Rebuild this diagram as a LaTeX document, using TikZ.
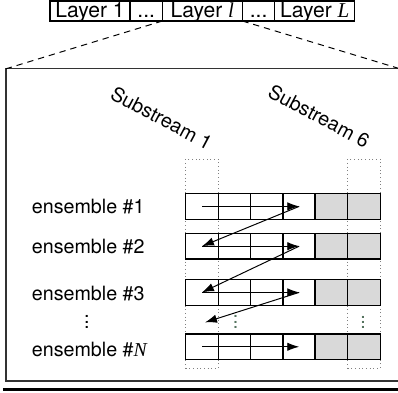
\documentclass[tikz,border=0pt]{standalone}
\usepackage{fontspec}
\setmainfont{TeX Gyre Heros}
\newfontfamily\timesfont{Liberation Serif}
\usetikzlibrary{positioning,arrows.meta}
\definecolor{dotgreen}{RGB}{85,115,95}
\newcommand{\tinyvdots}{\vbox{\baselineskip3.6pt\lineskiplimit0pt\hbox{.}\hbox{.}\hbox{.}}}

\begin{document}
\begin{tikzpicture}[font=\fontsize{14}{16}\selectfont]
    % Define styles
    \tikzset{
        layer/.style={rectangle, draw, line width=0.8pt, minimum width=2cm, font=\fontsize{15}{17}\selectfont, text height=1.1em, text depth=0.22em, inner ysep=0.5pt, inner xsep=2pt, outer sep=0},
        skip/.style={layer, minimum width=0.81cm},
        cell/.style={rectangle, draw, line width=0.8pt, minimum width=0.81cm, minimum height=0.64cm, inner sep=0, outer sep=0, fill=white},
        spare/.style={cell, fill=gray!30},
        substream/.style={rectangle, draw=gray, dotted, line width=0.6pt, minimum width=0.81cm, minimum height=5.23cm, inner sep=0, outer sep=0},
        ensemble/.style={anchor=west, inner sep=0, font=\fontsize{14}{16}\selectfont},
        arrow/.style={-{Latex[length=8.5pt,width=6pt]}, line width=0.7pt},
        zoomline/.style={dash pattern=on 4.5pt off 3.5pt, line width=0.7pt}
    }
    \useasboundingbox (0,0) rectangle (9.95,-9.825);

    % Layers
    \node[layer, anchor=south west] (lay1) at (1.25,-0.525) {Layer 1};
    \node[skip, right=0pt of lay1] (skip1) {...};
    \node[layer, right=0pt of skip1] (layl) {Layer {\timesfont\itshape l}};
    \node[skip, right=0pt of layl] (skip2) {...};
    \node[layer, right=0pt of skip2] (layL) {Layer {\timesfont\itshape L}};

    % Zoomed layer
    \node[draw=black!80, line width=0.9pt, minimum width=9.85cm, minimum height=7.805cm, inner sep=0, outer sep=0] (zoombox) at (5.075,-5.6225) {};
    \draw[zoomline] (layl.south west) -- (zoombox.north west);
    \draw[zoomline] (layl.south east) -- (zoombox.north east);
    \coordinate (rulel) at (0.075,-9.73);
    \coordinate (ruler) at (10.1,-9.73);
    \draw[line width=1.9pt] (rulel) -- (ruler);

    % Substreams
    \node[substream] (sub1) at (5.05,-6.595) {};
    \node[substream] (sub6) at (9.10,-6.595) {};
    \node[rotate=-28] (sublab1) at (4.04,-2.95) {Substream 1};
    \node[rotate=-28] (sublab6) at (7.975,-2.9) {Substream 6};

    % Ensembles
    \node[ensemble] (ens1) at (0.79,-5.17) {ensemble \#1};
    \node[ensemble] (ens2) at (0.79,-6.17) {ensemble \#2};
    \node[ensemble] (ens3) at (0.79,-7.33) {ensemble \#3};
    \node[inner sep=0] (ensdots) at (2.17,-8.05) {\tinyvdots};
    \node[ensemble] (ensN) at (0.79,-8.75) {ensemble \#{\timesfont\itshape N}};

    % Row 1
    \node[cell] (c11) at (5.05,-5.16) {};
    \node[cell, right=0pt of c11] (c12) {};
    \node[cell, right=0pt of c12] (c13) {};
    \node[cell, right=0pt of c13] (c14) {};
    \node[spare, right=0pt of c14] (c15) {};
    \node[spare, right=0pt of c15] (c16) {};
    \draw[line width=1.4pt] (c15.north west) -- (c15.south west);

    % Row 2
    \node[cell] (c21) at (5.05,-6.155) {};
    \node[cell, right=0pt of c21] (c22) {};
    \node[cell, right=0pt of c22] (c23) {};
    \node[cell, right=0pt of c23] (c24) {};
    \node[spare, right=0pt of c24] (c25) {};
    \node[spare, right=0pt of c25] (c26) {};
    \draw[line width=1.4pt] (c25.north west) -- (c25.south west);

    % Row 3
    \node[cell] (c31) at (5.05,-7.31) {};
    \node[cell, right=0pt of c31] (c32) {};
    \node[cell, right=0pt of c32] (c33) {};
    \node[cell, right=0pt of c33] (c34) {};
    \node[spare, right=0pt of c34] (c35) {};
    \node[spare, right=0pt of c35] (c36) {};
    \draw[line width=1.4pt] (c35.north west) -- (c35.south west);

    % Row N
    \node[cell] (cN1) at (5.05,-8.67) {};
    \node[cell, right=0pt of cN1] (cN2) {};
    \node[cell, right=0pt of cN2] (cN3) {};
    \node[cell, right=0pt of cN3] (cN4) {};
    \node[spare, right=0pt of cN4] (cN5) {};
    \node[spare, right=0pt of cN5] (cN6) {};
    \draw[line width=1.4pt] (cN5.north west) -- (cN5.south west);

    \node[text=dotgreen, inner sep=0] (celldots2) at (5.89,-8.05) {\tinyvdots};
    \node[text=dotgreen, inner sep=0] (celldots6) at (9.08,-8.06) {\tinyvdots};
    \coordinate (gap) at (5.125,-8.06);

    % Arrows
    \draw[arrow] (c11.center) -- (c14.center);
    \draw[arrow] (c14.center) -- (c21.center);
    \draw[arrow] (c21.center) -- (c24.center);
    \draw[arrow] (c24.center) -- (c31.center);
    \draw[arrow] (c31.center) -- (c34.center);
    \draw[arrow] (c34.center) -- (gap);
    \draw[arrow] (cN1.center) -- (cN4.center);
\end{tikzpicture}
\end{document}
